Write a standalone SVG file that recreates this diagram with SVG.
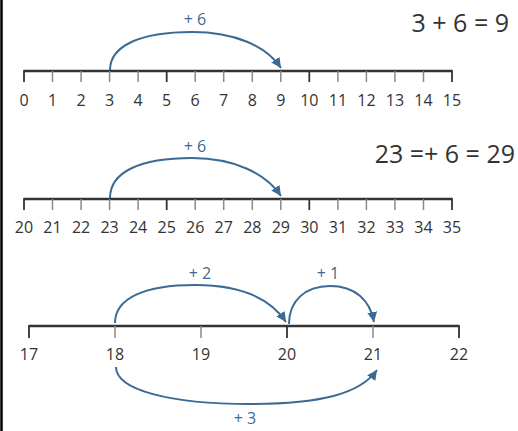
<svg xmlns="http://www.w3.org/2000/svg" width="518" height="431" viewBox="0 0 518 431">
<defs>
<marker id="ah" viewBox="0 0 10 10" refX="10" refY="5" markerWidth="10" markerHeight="10" markerUnits="userSpaceOnUse" orient="auto"><path d="M0,0 L10,5 L0,10 Z" fill="#3c6a94"/></marker>
<style>
.axis{stroke:#333;stroke-width:2.5;fill:none}
.maj{stroke:#333;stroke-width:1.8}
.min{stroke:#8a8a8a;stroke-width:1.5}
.num{font-family:"Open Sans","Noto Sans",sans-serif;font-size:16px;fill:#333;text-anchor:middle}
.eq{font-family:"Open Sans","Noto Sans",sans-serif;font-size:25px;fill:#333;text-anchor:end}
.jl{font-family:"Open Sans","Noto Sans",sans-serif;font-size:16px;fill:#3c6a94;text-anchor:middle}
.arc{stroke:#3c6a94;stroke-width:2;fill:none;marker-end:url(#ah)}
</style>
</defs>
<rect width="518" height="431" fill="#fff"/>
<line x1="1.5" y1="0" x2="1.5" y2="431" stroke="#000" stroke-width="2.5"/>

<g id="line1">
<line class="axis" x1="24" y1="71" x2="452" y2="71"/>
<g class="min">
<line x1="52.5" y1="71" x2="52.5" y2="82"/><line x1="81.1" y1="71" x2="81.1" y2="82"/><line x1="109.6" y1="71" x2="109.6" y2="82"/><line x1="138.1" y1="71" x2="138.1" y2="82"/>
<line x1="195.2" y1="71" x2="195.2" y2="82"/><line x1="223.7" y1="71" x2="223.7" y2="82"/><line x1="252.3" y1="71" x2="252.3" y2="82"/><line x1="280.8" y1="71" x2="280.8" y2="82"/>
<line x1="337.9" y1="71" x2="337.9" y2="82"/><line x1="366.4" y1="71" x2="366.4" y2="82"/><line x1="394.9" y1="71" x2="394.9" y2="82"/><line x1="423.5" y1="71" x2="423.5" y2="82"/>
</g>
<g class="maj">
<line x1="24" y1="70" x2="24" y2="82"/><line x1="166.7" y1="71" x2="166.7" y2="82"/><line x1="309.3" y1="71" x2="309.3" y2="82"/><line x1="452" y1="70" x2="452" y2="82"/>
</g>
<g class="num">
<text x="24" y="106">0</text><text x="52.5" y="106">1</text><text x="81.1" y="106">2</text><text x="109.6" y="106">3</text><text x="138.1" y="106">4</text><text x="166.7" y="106">5</text><text x="195.2" y="106">6</text><text x="223.7" y="106">7</text><text x="252.3" y="106">8</text><text x="280.8" y="106">9</text><text x="309.3" y="106">10</text><text x="337.9" y="106">11</text><text x="366.4" y="106">12</text><text x="394.9" y="106">13</text><text x="423.5" y="106">14</text><text x="452" y="106">15</text>
</g>
<text class="eq" x="509" y="32">3 + 6 = 9</text>
</g>

<g id="line2">
<line class="axis" x1="24" y1="199" x2="452" y2="199"/>
<g class="min">
<line x1="52.5" y1="199" x2="52.5" y2="210"/><line x1="81.1" y1="199" x2="81.1" y2="210"/><line x1="109.6" y1="199" x2="109.6" y2="210"/><line x1="138.1" y1="199" x2="138.1" y2="210"/>
<line x1="195.2" y1="199" x2="195.2" y2="210"/><line x1="223.7" y1="199" x2="223.7" y2="210"/><line x1="252.3" y1="199" x2="252.3" y2="210"/><line x1="280.8" y1="199" x2="280.8" y2="210"/>
<line x1="337.9" y1="199" x2="337.9" y2="210"/><line x1="366.4" y1="199" x2="366.4" y2="210"/><line x1="394.9" y1="199" x2="394.9" y2="210"/><line x1="423.5" y1="199" x2="423.5" y2="210"/>
</g>
<g class="maj">
<line x1="24" y1="198" x2="24" y2="210"/><line x1="166.7" y1="199" x2="166.7" y2="210"/><line x1="309.3" y1="199" x2="309.3" y2="210"/><line x1="452" y1="198" x2="452" y2="210"/>
</g>
<g class="num">
<text x="24" y="233">20</text><text x="52.5" y="233">21</text><text x="81.1" y="233">22</text><text x="109.6" y="233">23</text><text x="138.1" y="233">24</text><text x="166.7" y="233">25</text><text x="195.2" y="233">26</text><text x="223.7" y="233">27</text><text x="252.3" y="233">28</text><text x="280.8" y="233">29</text><text x="309.3" y="233">30</text><text x="337.9" y="233">31</text><text x="366.4" y="233">32</text><text x="394.9" y="233">33</text><text x="423.5" y="233">34</text><text x="452" y="233">35</text>
</g>
<text class="eq" x="515" y="163">23 =+ 6 = 29</text>
</g>

<g id="line3">
<line class="axis" x1="29" y1="326" x2="459" y2="326"/>
<g class="min">
<line x1="115" y1="326" x2="115" y2="338"/><line x1="201" y1="326" x2="201" y2="338"/><line x1="373" y1="326" x2="373" y2="338"/>
</g>
<g class="maj">
<line x1="29" y1="325" x2="29" y2="338"/><line x1="287" y1="326" x2="287" y2="338"/><line x1="459" y1="325" x2="459" y2="338"/>
</g>
<g class="num">
<text x="29" y="360">17</text><text x="115" y="360">18</text><text x="201" y="360">19</text><text x="287" y="360">20</text><text x="373" y="360">21</text><text x="459" y="360">22</text>
</g>
</g>

<g id="connectors">
<path class="arc" d="M110,70 C110,46 140,32 192,32 C235,32 266,46 281,68"/>
<path class="arc" d="M110,198 C110,172 140,158 192,158 C235,158 266,174 281,196"/>
<path class="arc" d="M115,323 C115,298 145,285 195,285 C240,285 270,298 286,322"/>
<path class="arc" d="M289,324 C289,301 305,286 330,286 C355,286 370,300 374,322"/>
<path class="arc" d="M116,367 C116,390 170,404 250,404 C320,404 360,394 377,370"/>
</g>

<g id="labels">
<text class="jl" x="195" y="25">+ 6</text>
<text class="jl" x="195" y="152">+ 6</text>
<text class="jl" x="200" y="279">+ 2</text>
<text class="jl" x="328" y="279">+ 1</text>
<text class="jl" x="245" y="424">+ 3</text>
</g>
</svg>
